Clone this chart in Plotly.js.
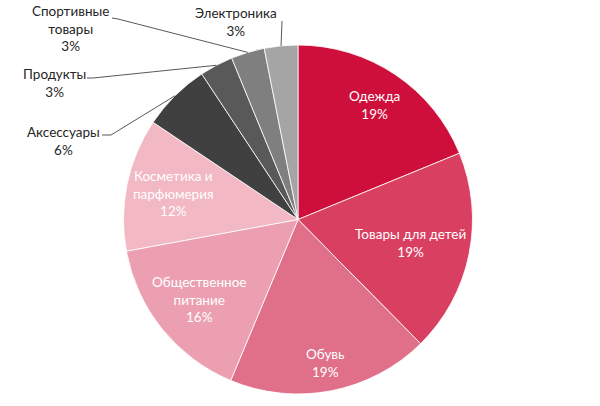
<!DOCTYPE html>
<html>
<head>
<meta charset="utf-8">
<script src="https://cdn.plot.ly/plotly-3.0.1.min.js"></script>
<style>html,body{margin:0;padding:0;background:#fff}#chart{width:600px;height:406px}</style>
</head>
<body>
<div id="chart"></div>
<script>
// Data
const labels = ['Одежда', 'Товары для детей', 'Обувь', 'Общественное питание', 'Косметика и парфюмерия', 'Аксессуары', 'Продукты', 'Спортивные товары', 'Электроника'];
const labelText = ['Одежда', 'Товары для детей', 'Обувь', 'Общественное<br>питание', 'Косметика и<br>парфюмерия', 'Аксессуары', 'Продукты', 'Спортивные<br>товары', 'Электроника'];
const values = [18.8, 18.8, 18.7, 15.8, 12.3, 6.3, 3.1, 3.1, 3.1];
const colors = ['#CF0F3B', '#D93F61', '#E07089', '#EB9FB0', '#F2B8C4', '#404040', '#595959', '#7F7F7F', '#A5A5A5'];

// Layout config (pixels)
const W = 600, H = 406;
const CX = 298, CY = 219.5, R = 174.5;
// inside labels: radial fraction; outside labels: text centre + leader start
const place = [
  {inside: true, r: 0.79},
  {inside: true, r: 0.66},
  {inside: true, r: 0.84},
  {inside: true, r: 0.73},
  {inside: true, r: 0.73},
  {inside: false, tx: 63, ty: 141, lx: [102, 111], ly: [135, 135]},
  {inside: false, tx: 55, ty: 83, lx: [87, 93], ly: [78, 78]},
  {inside: false, tx: 70, ty: 29, lx: [112, 118], ly: [18, 19]},
  {inside: false, tx: 236, ty: 22, lx: [282], ly: [21]}
];

const px = x => x / W;
const py = y => 1 - y / H;
const total = values.reduce((a, b) => a + b, 0);
const annotations = [];
const shapes = [];
const FONT = 'Lato, "Open Sans", sans-serif';
let cum = 0;
values.forEach((v, i) => {
  const pct = Math.round(v / total * 100) + '%';
  const mid = (cum + v / 2) / total * 2 * Math.PI;
  cum += v;
  const p = place[i];
  const sx = Math.sin(mid), sy = -Math.cos(mid);
  if (p.inside) {
    annotations.push({
      x: px(CX + sx * R * p.r), y: py(CY + sy * R * p.r), xref: 'paper', yref: 'paper',
      text: labelText[i] + '<br>' + pct, showarrow: false,
      font: {family: FONT, size: 13.5, color: '#ffffff'},
      xanchor: 'center', yanchor: 'middle', align: 'center'
    });
  } else {
    annotations.push({
      x: px(p.tx), y: py(p.ty), xref: 'paper', yref: 'paper',
      text: labelText[i] + '<br>' + pct, showarrow: false,
      font: {family: FONT, size: 13.5, color: '#262626'},
      xanchor: 'center', yanchor: 'middle', align: 'center'
    });
    const ex = CX + sx * R, ey = CY + sy * R;
    let d = '';
    p.lx.forEach((x, k) => { d += (k === 0 ? 'M' : 'L') + px(x) + ',' + py(p.ly[k]) + ' '; });
    d += 'L' + px(ex) + ',' + py(ey);
    shapes.push({type: 'path', xref: 'paper', yref: 'paper', path: d, line: {color: '#595959', width: 1}});
  }
});

const trace = {
  type: 'pie',
  labels: labels,
  values: values,
  sort: false,
  direction: 'clockwise',
  rotation: 0,
  marker: {colors: colors, line: {color: '#ffffff', width: 0.8}},
  textinfo: 'none',
  hoverinfo: 'label+percent',
  showlegend: false,
  domain: {x: [px(CX - 180), px(CX + 180)], y: [py(CY + R), py(CY - R)]}
};

Plotly.newPlot('chart', [trace], {
  width: W, height: H,
  margin: {l: 0, r: 0, t: 0, b: 0},
  paper_bgcolor: '#ffffff',
  showlegend: false,
  annotations: annotations,
  shapes: shapes
}, {displayModeBar: false, staticPlot: true});
</script>
</body>
</html>
